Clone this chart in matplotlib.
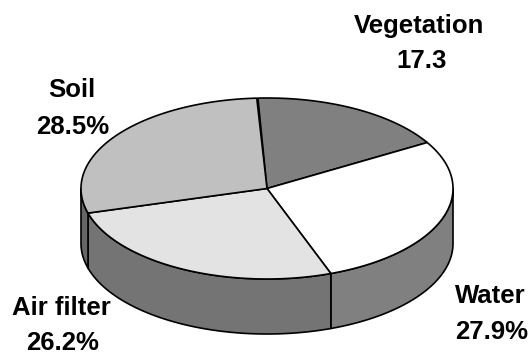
import numpy as np
import matplotlib
matplotlib.use("Agg")
import matplotlib.pyplot as plt
from matplotlib.patches import Polygon

categories = ["Vegetation", "Water", "Air filter", "Soil"]
values = [17.3, 27.9, 26.2, 28.5]
value_labels = ["17.3", "27.9%", "26.2%", "28.5%"]
top_colors = ["#808080", "#ffffff", "#e3e3e3", "#c0c0c0"]
side_colors = ["#808080", "#808080", "#747474", "#666666"]

CX, CY, RX, RY, DEPTH = 267.0, 188.5, 186.0, 90.5, 55.0
START = 92.8
EDGE = dict(edgecolor="black", linewidth=1.2, joinstyle="round")

fig = plt.figure(figsize=(5.3, 3.56), dpi=100)
ax = fig.add_axes([0, 0, 1, 1])
ax.set_xlim(0, 530)
ax.set_ylim(356, 0)
ax.axis("off")


def rim(a0, a1, n=200):
    t = np.radians(np.linspace(a0, a1, n))
    return np.column_stack([CX + RX * np.cos(t), CY - RY * np.sin(t)])


# Pie slices run clockwise from the start angle; total normalised to the listed shares
sweeps = np.array(values) / 100.0 * 360.0
ends = START - np.cumsum(sweeps)
starts = np.concatenate([[START], ends[:-1]])

# Outer wall: only the part of each slice on the front half of the ellipse
for a0, a1, color in zip(starts, ends, side_colors):
    lo, hi = max(a1, -180.0), min(a0, 0.0)
    if lo < hi:
        top = rim(hi, lo)
        bottom = top[::-1] + [0, DEPTH]
        ax.add_patch(Polygon(np.vstack([top, bottom]), closed=True,
                             facecolor=color, zorder=1, **EDGE))

# Upper surface
for a0, a1, color in zip(starts, ends, top_colors):
    ax.add_patch(Polygon(np.vstack([[CX, CY], rim(a0, a1)]), closed=True,
                         facecolor=color, zorder=2, **EDGE))

# Slice labels: name above, value below, each anchored on its baseline
name_pos = [(419, 33), (490.5, 303), (61, 315), (72, 97)]
value_pos = [(422, 68), (491.5, 339), (62.5, 350.5), (73, 134)]
for name, val, np_, vp in zip(categories, value_labels, name_pos, value_pos):
    for s, (x, y) in ((name, np_), (val, vp)):
        ax.text(x, y, s, ha="center", va="baseline", fontsize=18.5,
                fontweight="bold", family="Liberation Sans", color="black", zorder=3)

fig.savefig("out.png", dpi=100, facecolor="white")
